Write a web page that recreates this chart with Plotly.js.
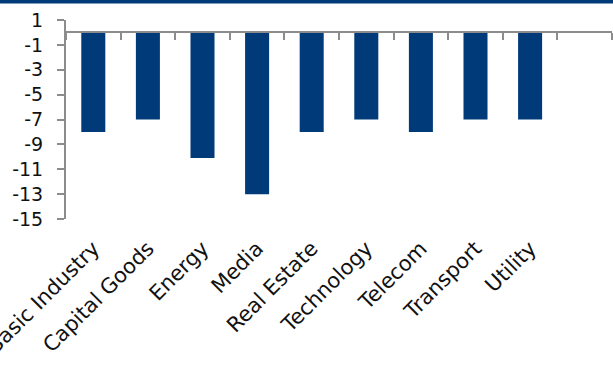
<!DOCTYPE html>
<html>
<head>
<meta charset="utf-8">
<script src="https://cdn.plot.ly/plotly-3.0.1.min.js"></script>
<style>html,body{margin:0;padding:0;background:#fff;}#chart{width:613px;height:367px;}</style>
</head>
<body>
<div id="chart"></div>
<script>
var categories = ["Basic Industry", "Capital Goods", "Energy", "Media", "Real Estate", "Technology", "Telecom", "Transport", "Utility", " "];
var values = [-8, -7, -10.1, -13, -8, -7, -8, -7, -7, null];
var yTickVals = [1, -1, -3, -5, -7, -9, -11, -13, -15];
var yTickText = ["1", "-1", "-3", "-5", "-7", "-9", "-11", "-13", "-15"];

var navy = "#003A78";
var axisGrey = "#8C8C8C";
var fontFam = "DejaVu Sans, sans-serif";

var traces = [
  {type: "bar", x: categories, y: values, marker: {color: navy}, width: 0.44, hoverinfo: "skip", xaxis: "x", yaxis: "y"},
  {type: "bar", x: categories, y: values, marker: {color: "rgba(0,0,0,0)"}, width: 0.44, hoverinfo: "skip", xaxis: "x2", yaxis: "y", showlegend: false}
];

var layout = {
  width: 613, height: 367,
  margin: {l: 66, r: 1, t: 20, b: 148},
  paper_bgcolor: "#fff", plot_bgcolor: "#fff",
  showlegend: false,
  bargap: 0.56,
  xaxis: {
    type: "category", categoryorder: "array", categoryarray: categories,
    range: [-0.5, 9.5], showline: false, ticks: "", showgrid: false, zeroline: false,
    ticklabelstandoff: 12,
    tickangle: -45, tickfont: {family: fontFam, size: 21, color: "#111"}
  },
  xaxis2: {
    type: "category", categoryorder: "array", categoryarray: categories,
    overlaying: "x", anchor: "free", position: 0.9375, range: [-0.5, 9.5],
    showline: true, linecolor: axisGrey, linewidth: 2,
    ticks: "outside", tickson: "boundaries", ticklen: 7, tickwidth: 2, tickcolor: axisGrey,
    showticklabels: false, showgrid: false, zeroline: false
  },
  yaxis: {
    range: [-15, 1], tickvals: yTickVals, ticktext: yTickText,
    showline: true, linecolor: axisGrey, linewidth: 2,
    ticks: "outside", ticklen: 7, tickwidth: 2, tickcolor: axisGrey,
    ticklabelstandoff: 10,
    showgrid: false, zeroline: false,
    tickfont: {family: fontFam, size: 19, color: "#111"}
  },
  shapes: [
    {type: "rect", xref: "paper", yref: "paper", x0: -0.2, x1: 1.1, y0: 1.083, y1: 1.2, fillcolor: navy, line: {width: 0}, layer: "above"}
  ]
};

Plotly.newPlot("chart", traces, layout, {staticPlot: true, displayModeBar: false});
</script>
</body>
</html>
